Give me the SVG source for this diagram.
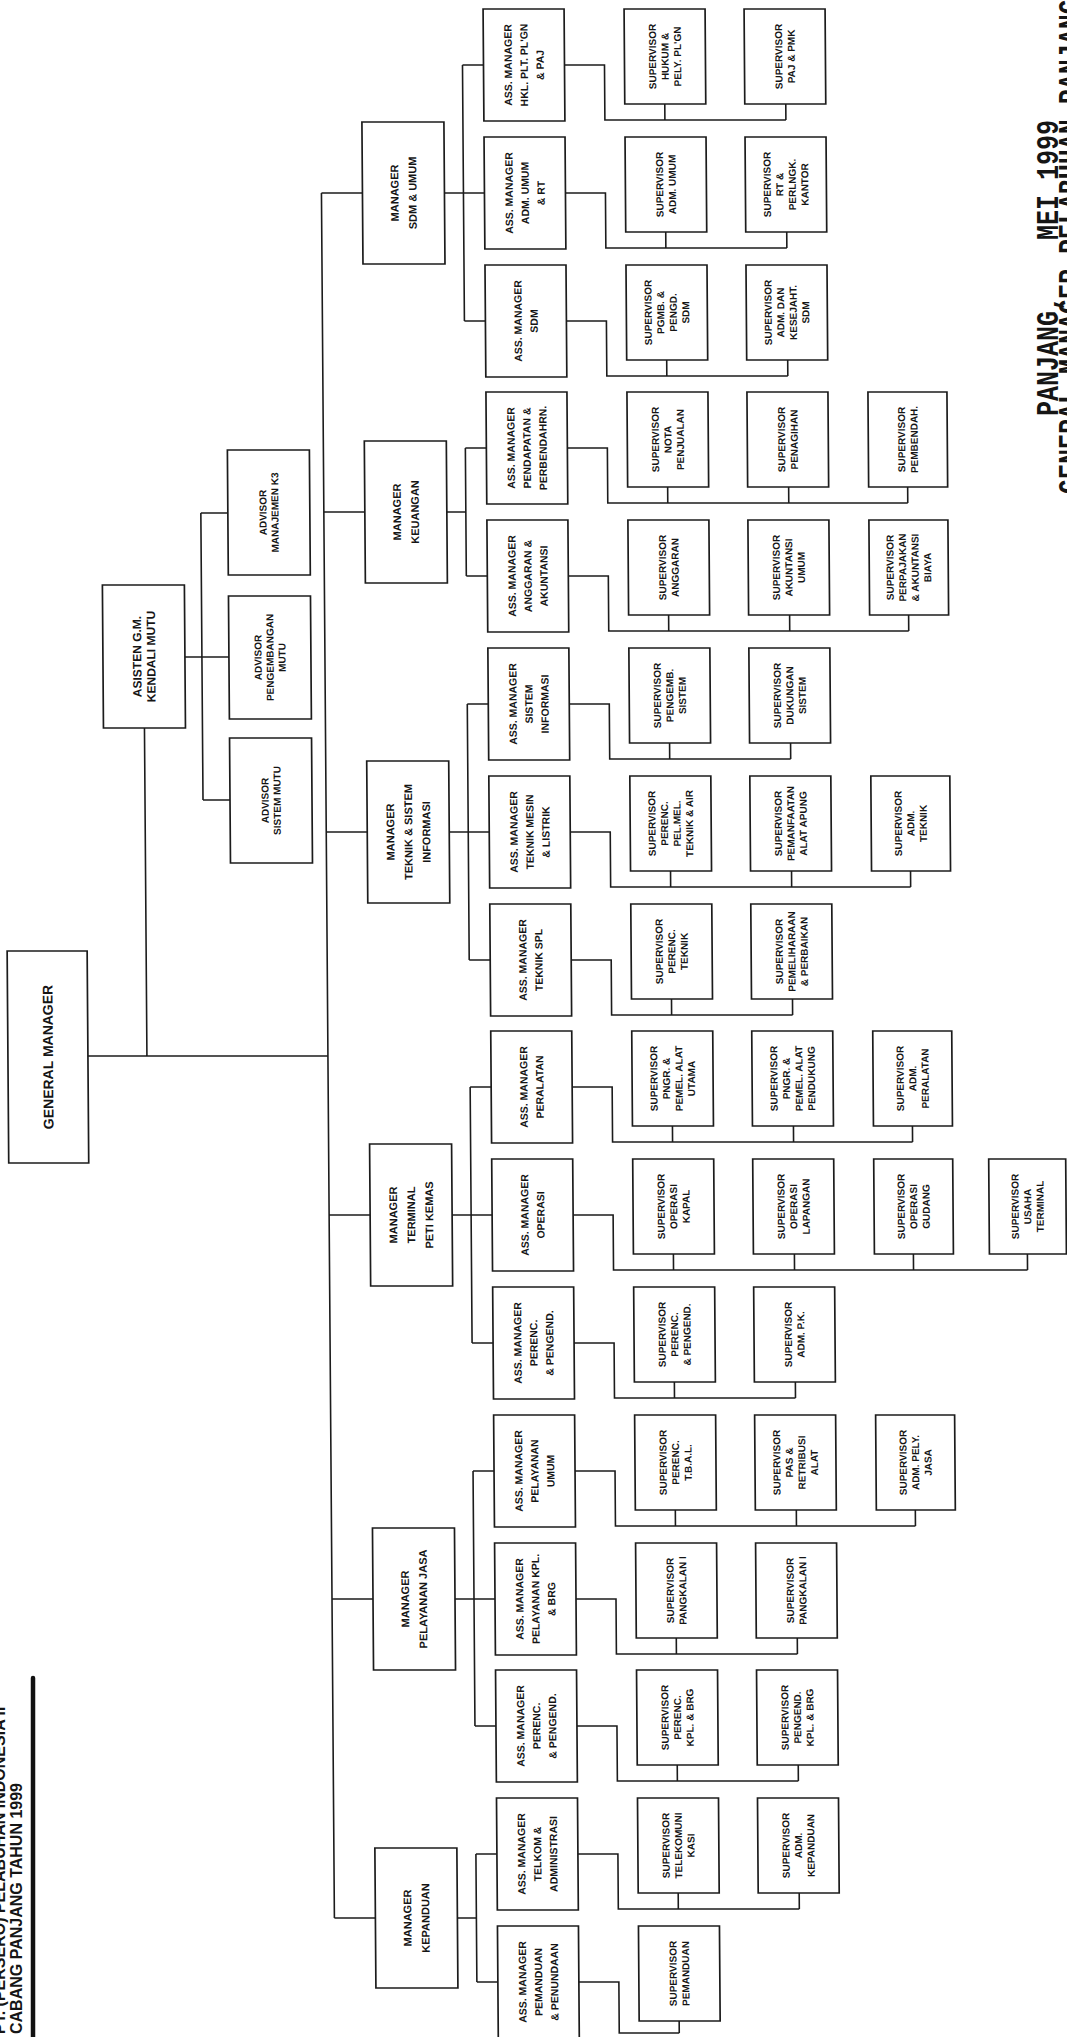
<svg xmlns="http://www.w3.org/2000/svg" width="1067" height="2037" viewBox="0 0 1067 2037">
<style>
.b{fill:none;stroke:#1c1c1c;stroke-width:1.7}
.c path{fill:none;stroke:#1c1c1c;stroke-width:1.6}
text{font-family:"Liberation Sans",Arial,sans-serif;font-weight:bold;fill:#151515;text-anchor:middle}
.am{font-size:10.5px}
.sv{font-size:10px}
.mg{font-size:11px}
.ad{font-size:10px}
.sig{font-family:"Liberation Mono","Courier New",monospace;font-size:25px;text-anchor:start}
</style>
<rect width="1067" height="2037" fill="#ffffff"/>
<g id="title">
<text transform="translate(5,2034) rotate(-90)" style="font-size:16px;text-anchor:start">PT. (PERSERO) PELABUHAN INDONESIA II</text>
<text transform="translate(22,2034) rotate(-90)" style="font-size:16px;text-anchor:start">CABANG PANJANG TAHUN 1999</text>
<path d="M33,1678V2037" stroke="#111" stroke-width="4.5" stroke-linecap="round" fill="none"/>
</g>
<g id="signature">
<text class="sig" transform="translate(1058,416) rotate(-90) scale(1,1.25)">PANJANG,</text>
<text class="sig" transform="translate(1058,240) rotate(-90) scale(1,1.25)">MEI 1999</text>
<text class="sig" transform="translate(1080,494) rotate(-90) scale(1,1.25)">GENERAL MANAGER PELABUHAN PANJANG</text>
</g>
<g transform="skewX(0.43)">
<g id="connectors" class="c">
<path d="M320,193V1918 M320,193H361 M320,512H361 M320,832H361 M320,1215H361 M320,1599H361 M320,1918H361"/>
<path d="M80,1056H320 M139,728V1056"/>
<path d="M180,657H224 M197,513V800 M197,513H224 M197,800H224"/>
<path d="M443,193H462 M462,65V321 M462,65H483 M462,193H483 M462,321H483"/>
<path d="M443,512H462 M462,448V576 M462,448H483 M462,576H483"/>
<path d="M443,832H483 M462,704V960 M462,704H483 M462,960H483"/>
<path d="M443,1215H483 M462,1087V1343 M462,1087H483 M462,1343H483"/>
<path d="M443,1599H483 M462,1471V1726 M462,1471H483 M462,1726H483"/>
<path d="M443,1918H462 M462,1854V1982 M462,1854H483 M462,1982H483"/>
<path d="M564,65H604V120H785 M664,104V120 M785,104V120"/>
<path d="M564,193H604V248H785 M664,232V248 M785,232V248"/>
<path d="M564,321H604V376H785 M664,360V376 M785,360V376"/>
<path d="M564,448H604V503H904 M664,487V503 M785,487V503 M904,487V503"/>
<path d="M564,576H604V631H904 M664,615V631 M785,615V631 M904,615V631"/>
<path d="M564,704H604V759H785 M664,743V759 M785,743V759"/>
<path d="M564,832H604V887H904 M664,871V887 M785,871V887 M904,871V887"/>
<path d="M564,960H604V1015H785 M664,999V1015 M785,999V1015"/>
<path d="M564,1087H604V1142H904 M664,1126V1142 M785,1126V1142 M904,1126V1142"/>
<path d="M564,1215H604V1270H1018 M664,1254V1270 M785,1254V1270 M904,1254V1270 M1018,1254V1270"/>
<path d="M564,1343H604V1398H785 M664,1382V1398 M785,1382V1398"/>
<path d="M564,1471H604V1526H904 M664,1510V1526 M785,1510V1526 M904,1510V1526"/>
<path d="M564,1599H604V1654H785 M664,1638V1654 M785,1638V1654"/>
<path d="M564,1726H604V1781H785 M664,1765V1781 M785,1765V1781"/>
<path d="M564,1854H604V1909H785 M664,1893V1909 M785,1893V1909"/>
<path d="M564,1982H604V2033H664 M664,2021V2033"/>
</g>

<g id="gm"><rect class="b" x="0" y="951" width="80" height="212"/><text transform="translate(40,1057) rotate(-90)" style="font-size:14px"><tspan x="0" y="5">GENERAL MANAGER</tspan></text></g>
<g id="asisten"><rect class="b" x="98" y="585" width="82" height="143"/><text transform="translate(139,656.5) rotate(-90)" style="font-size:12px"><tspan x="0" y="-2.7">ASISTEN G.M.</tspan><tspan x="0" y="11.3">KENDALI MUTU</tspan></text></g>
<g id="adv-k3"><rect class="b" x="224" y="450" width="82" height="125"/><text class="ad" transform="translate(265,512.5) rotate(-90)"><tspan x="0" y="-2.4">ADVISOR</tspan><tspan x="0" y="9.6">MANAJEMEN K3</tspan></text></g>
<g id="adv-pengembangan"><rect class="b" x="224" y="596" width="82" height="123"/><text class="ad" transform="translate(265,657.5) rotate(-90)"><tspan x="0" y="-8.4">ADVISOR</tspan><tspan x="0" y="3.6">PENGEMBANGAN</tspan><tspan x="0" y="15.6">MUTU</tspan></text></g>
<g id="adv-sistem"><rect class="b" x="224" y="738" width="82" height="125"/><text class="ad" transform="translate(265,800.5) rotate(-90)"><tspan x="0" y="-2.4">ADVISOR</tspan><tspan x="0" y="9.6">SISTEM MUTU</tspan></text></g>

<g id="mgr-sdm"><rect class="b" x="361" y="122" width="82" height="142"/><text class="mg" transform="translate(402,193) rotate(-90)"><tspan x="0" y="-5">MANAGER</tspan><tspan x="0" y="13">SDM &amp; UMUM</tspan></text></g>
<g id="mgr-keuangan"><rect class="b" x="361" y="441" width="82" height="142"/><text class="mg" transform="translate(402,512) rotate(-90)"><tspan x="0" y="-5">MANAGER</tspan><tspan x="0" y="13">KEUANGAN</tspan></text></g>
<g id="mgr-teknik"><rect class="b" x="361" y="761" width="82" height="142"/><text class="mg" transform="translate(402,832) rotate(-90)"><tspan x="0" y="-14">MANAGER</tspan><tspan x="0" y="4">TEKNIK &amp; SISTEM</tspan><tspan x="0" y="22">INFORMASI</tspan></text></g>
<g id="mgr-terminal"><rect class="b" x="361" y="1144" width="82" height="142"/><text class="mg" transform="translate(402,1215) rotate(-90)"><tspan x="0" y="-14">MANAGER</tspan><tspan x="0" y="4">TERMINAL</tspan><tspan x="0" y="22">PETI KEMAS</tspan></text></g>
<g id="mgr-pelayanan"><rect class="b" x="361" y="1528" width="82" height="142"/><text class="mg" transform="translate(402,1599) rotate(-90)"><tspan x="0" y="-5">MANAGER</tspan><tspan x="0" y="13">PELAYANAN JASA</tspan></text></g>
<g id="mgr-kepanduan"><rect class="b" x="361" y="1848" width="82" height="140"/><text class="mg" transform="translate(402,1918) rotate(-90)"><tspan x="0" y="-5">MANAGER</tspan><tspan x="0" y="13">KEPANDUAN</tspan></text></g>

<g id="am-hkl"><rect class="b" x="483" y="9" width="81" height="112"/><text class="am" transform="translate(523.5,65) rotate(-90)"><tspan x="0" y="-12.2">ASS. MANAGER</tspan><tspan x="0" y="3.8">HKL. PLT. PL'GN</tspan><tspan x="0" y="19.8">&amp; PAJ</tspan></text></g>
<g id="am-admumum"><rect class="b" x="483" y="137" width="81" height="112"/><text class="am" transform="translate(523.5,193) rotate(-90)"><tspan x="0" y="-12.2">ASS. MANAGER</tspan><tspan x="0" y="3.8">ADM. UMUM</tspan><tspan x="0" y="19.8">&amp; RT</tspan></text></g>
<g id="am-sdm"><rect class="b" x="483" y="265" width="81" height="112"/><text class="am" transform="translate(523.5,321) rotate(-90)"><tspan x="0" y="-4.2">ASS. MANAGER</tspan><tspan x="0" y="11.8">SDM</tspan></text></g>
<g id="am-pendapatan"><rect class="b" x="483" y="392" width="81" height="112"/><text class="am" transform="translate(523.5,448) rotate(-90)"><tspan x="0" y="-12.2">ASS. MANAGER</tspan><tspan x="0" y="3.8">PENDAPATAN &amp;</tspan><tspan x="0" y="19.8">PERBENDAHRN.</tspan></text></g>
<g id="am-anggaran"><rect class="b" x="483" y="520" width="81" height="112"/><text class="am" transform="translate(523.5,576) rotate(-90)"><tspan x="0" y="-12.2">ASS. MANAGER</tspan><tspan x="0" y="3.8">ANGGARAN &amp;</tspan><tspan x="0" y="19.8">AKUNTANSI</tspan></text></g>
<g id="am-si"><rect class="b" x="483" y="648" width="81" height="112"/><text class="am" transform="translate(523.5,704) rotate(-90)"><tspan x="0" y="-12.2">ASS. MANAGER</tspan><tspan x="0" y="3.8">SISTEM</tspan><tspan x="0" y="19.8">INFORMASI</tspan></text></g>
<g id="am-teknikmesin"><rect class="b" x="483" y="776" width="81" height="112"/><text class="am" transform="translate(523.5,832) rotate(-90)"><tspan x="0" y="-12.2">ASS. MANAGER</tspan><tspan x="0" y="3.8">TEKNIK MESIN</tspan><tspan x="0" y="19.8">&amp; LISTRIK</tspan></text></g>
<g id="am-tekniksipil"><rect class="b" x="483" y="904" width="81" height="112"/><text class="am" transform="translate(523.5,960) rotate(-90)"><tspan x="0" y="-4.2">ASS. MANAGER</tspan><tspan x="0" y="11.8">TEKNIK SPL</tspan></text></g>
<g id="am-peralatan"><rect class="b" x="483" y="1031" width="81" height="112"/><text class="am" transform="translate(523.5,1087) rotate(-90)"><tspan x="0" y="-4.2">ASS. MANAGER</tspan><tspan x="0" y="11.8">PERALATAN</tspan></text></g>
<g id="am-operasi"><rect class="b" x="483" y="1159" width="81" height="112"/><text class="am" transform="translate(523.5,1215) rotate(-90)"><tspan x="0" y="-4.2">ASS. MANAGER</tspan><tspan x="0" y="11.8">OPERASI</tspan></text></g>
<g id="am-perenc-tpk"><rect class="b" x="483" y="1287" width="81" height="112"/><text class="am" transform="translate(523.5,1343) rotate(-90)"><tspan x="0" y="-12.2">ASS. MANAGER</tspan><tspan x="0" y="3.8">PERENC.</tspan><tspan x="0" y="19.8">&amp; PENGEND.</tspan></text></g>
<g id="am-pelumum"><rect class="b" x="483" y="1415" width="81" height="112"/><text class="am" transform="translate(523.5,1471) rotate(-90)"><tspan x="0" y="-12.2">ASS. MANAGER</tspan><tspan x="0" y="3.8">PELAYANAN</tspan><tspan x="0" y="19.8">UMUM</tspan></text></g>
<g id="am-pelkapal"><rect class="b" x="483" y="1543" width="81" height="112"/><text class="am" transform="translate(523.5,1599) rotate(-90)"><tspan x="0" y="-12.2">ASS. MANAGER</tspan><tspan x="0" y="3.8">PELAYANAN KPL.</tspan><tspan x="0" y="19.8">&amp; BRG</tspan></text></g>
<g id="am-perenc-pj"><rect class="b" x="483" y="1670" width="81" height="112"/><text class="am" transform="translate(523.5,1726) rotate(-90)"><tspan x="0" y="-12.2">ASS. MANAGER</tspan><tspan x="0" y="3.8">PERENC.</tspan><tspan x="0" y="19.8">&amp; PENGEND.</tspan></text></g>
<g id="am-telkom"><rect class="b" x="483" y="1798" width="81" height="112"/><text class="am" transform="translate(523.5,1854) rotate(-90)"><tspan x="0" y="-12.2">ASS. MANAGER</tspan><tspan x="0" y="3.8">TELKOM &amp;</tspan><tspan x="0" y="19.8">ADMINISTRASI</tspan></text></g>
<g id="am-pemanduan"><rect class="b" x="483" y="1926" width="81" height="112"/><text class="am" transform="translate(523.5,1982) rotate(-90)"><tspan x="0" y="-12.2">ASS. MANAGER</tspan><tspan x="0" y="3.8">PEMANDUAN</tspan><tspan x="0" y="19.8">&amp; PENUNDAAN</tspan></text></g>

<g id="sv-hukum"><rect class="b" x="624" y="9" width="81" height="95"/><text class="sv" transform="translate(664.5,56.5) rotate(-90)"><tspan x="0" y="-8.9">SUPERVISOR</tspan><tspan x="0" y="3.6">HUKUM &amp;</tspan><tspan x="0" y="16.1">PELY. PL'GN</tspan></text></g>
<g id="sv-pajpmk"><rect class="b" x="744" y="9" width="81" height="95"/><text class="sv" transform="translate(784.5,56.5) rotate(-90)"><tspan x="0" y="-2.7">SUPERVISOR</tspan><tspan x="0" y="9.9">PAJ &amp; PMK</tspan></text></g>
<g id="sv-admumum"><rect class="b" x="624" y="137" width="81" height="95"/><text class="sv" transform="translate(664.5,184.5) rotate(-90)"><tspan x="0" y="-2.7">SUPERVISOR</tspan><tspan x="0" y="9.9">ADM. UMUM</tspan></text></g>
<g id="sv-rt"><rect class="b" x="744" y="137" width="81" height="95"/><text class="sv" transform="translate(784.5,184.5) rotate(-90)"><tspan x="0" y="-15.2">SUPERVISOR</tspan><tspan x="0" y="-2.7">RT &amp;</tspan><tspan x="0" y="9.9">PERLNGK.</tspan><tspan x="0" y="22.4">KANTOR</tspan></text></g>
<g id="sv-pgmb"><rect class="b" x="624" y="265" width="81" height="95"/><text class="sv" transform="translate(664.5,312.5) rotate(-90)"><tspan x="0" y="-15.2">SUPERVISOR</tspan><tspan x="0" y="-2.7">PGMB. &amp;</tspan><tspan x="0" y="9.9">PENGD.</tspan><tspan x="0" y="22.4">SDM</tspan></text></g>
<g id="sv-kesejahteraan"><rect class="b" x="744" y="265" width="81" height="95"/><text class="sv" transform="translate(784.5,312.5) rotate(-90)"><tspan x="0" y="-15.2">SUPERVISOR</tspan><tspan x="0" y="-2.7">ADM. DAN</tspan><tspan x="0" y="9.9">KESEJAHT.</tspan><tspan x="0" y="22.4">SDM</tspan></text></g>
<g id="sv-nota"><rect class="b" x="624" y="392" width="81" height="95"/><text class="sv" transform="translate(664.5,439.5) rotate(-90)"><tspan x="0" y="-8.9">SUPERVISOR</tspan><tspan x="0" y="3.6">NOTA</tspan><tspan x="0" y="16.1">PENJUALAN</tspan></text></g>
<g id="sv-penagihan"><rect class="b" x="744" y="392" width="81" height="95"/><text class="sv" transform="translate(784.5,439.5) rotate(-90)"><tspan x="0" y="-2.7">SUPERVISOR</tspan><tspan x="0" y="9.9">PENAGIHAN</tspan></text></g>
<g id="sv-pembendah"><rect class="b" x="865" y="392" width="79" height="95"/><text class="sv" transform="translate(904.5,439.5) rotate(-90)"><tspan x="0" y="-2.7">SUPERVISOR</tspan><tspan x="0" y="9.9">PEMBENDAH.</tspan></text></g>
<g id="sv-anggaran"><rect class="b" x="624" y="520" width="81" height="95"/><text class="sv" transform="translate(664.5,567.5) rotate(-90)"><tspan x="0" y="-2.7">SUPERVISOR</tspan><tspan x="0" y="9.9">ANGGARAN</tspan></text></g>
<g id="sv-akuntansi"><rect class="b" x="744" y="520" width="81" height="95"/><text class="sv" transform="translate(784.5,567.5) rotate(-90)"><tspan x="0" y="-8.9">SUPERVISOR</tspan><tspan x="0" y="3.6">AKUNTANSI</tspan><tspan x="0" y="16.1">UMUM</tspan></text></g>
<g id="sv-perpajakan"><rect class="b" x="865" y="520" width="79" height="95"/><text class="sv" transform="translate(904.5,567.5) rotate(-90)"><tspan x="0" y="-15.2">SUPERVISOR</tspan><tspan x="0" y="-2.7">PERPAJAKAN</tspan><tspan x="0" y="9.9">&amp; AKUNTANSI</tspan><tspan x="0" y="22.4">BIAYA</tspan></text></g>
<g id="sv-pengembsistem"><rect class="b" x="624" y="648" width="81" height="95"/><text class="sv" transform="translate(664.5,695.5) rotate(-90)"><tspan x="0" y="-8.9">SUPERVISOR</tspan><tspan x="0" y="3.6">PENGEMB.</tspan><tspan x="0" y="16.1">SISTEM</tspan></text></g>
<g id="sv-dukungan"><rect class="b" x="744" y="648" width="81" height="95"/><text class="sv" transform="translate(784.5,695.5) rotate(-90)"><tspan x="0" y="-8.9">SUPERVISOR</tspan><tspan x="0" y="3.6">DUKUNGAN</tspan><tspan x="0" y="16.1">SISTEM</tspan></text></g>
<g id="sv-perenc-mesin"><rect class="b" x="624" y="776" width="81" height="95"/><text class="sv" transform="translate(664.5,823.5) rotate(-90)"><tspan x="0" y="-15.2">SUPERVISOR</tspan><tspan x="0" y="-2.7">PERENC.</tspan><tspan x="0" y="9.9">PEL.MEL.</tspan><tspan x="0" y="22.4">TEKNIK &amp; AIR</tspan></text></g>
<g id="sv-alatapung"><rect class="b" x="744" y="776" width="81" height="95"/><text class="sv" transform="translate(784.5,823.5) rotate(-90)"><tspan x="0" y="-8.9">SUPERVISOR</tspan><tspan x="0" y="3.6">PEMANFAATAN</tspan><tspan x="0" y="16.1">ALAT APUNG</tspan></text></g>
<g id="sv-admteknik"><rect class="b" x="865" y="776" width="79" height="95"/><text class="sv" transform="translate(904.5,823.5) rotate(-90)"><tspan x="0" y="-8.9">SUPERVISOR</tspan><tspan x="0" y="3.6">ADM.</tspan><tspan x="0" y="16.1">TEKNIK</tspan></text></g>
<g id="sv-perenc-teknik"><rect class="b" x="624" y="904" width="81" height="95"/><text class="sv" transform="translate(664.5,951.5) rotate(-90)"><tspan x="0" y="-8.9">SUPERVISOR</tspan><tspan x="0" y="3.6">PERENC.</tspan><tspan x="0" y="16.1">TEKNIK</tspan></text></g>
<g id="sv-pemeliharaan"><rect class="b" x="744" y="904" width="81" height="95"/><text class="sv" transform="translate(784.5,951.5) rotate(-90)"><tspan x="0" y="-8.9">SUPERVISOR</tspan><tspan x="0" y="3.6">PEMELIHARAAN</tspan><tspan x="0" y="16.1">&amp; PERBAIKAN</tspan></text></g>
<g id="sv-alatutama"><rect class="b" x="624" y="1031" width="81" height="95"/><text class="sv" transform="translate(664.5,1078.5) rotate(-90)"><tspan x="0" y="-15.2">SUPERVISOR</tspan><tspan x="0" y="-2.7">PNGR. &amp;</tspan><tspan x="0" y="9.9">PEMEL. ALAT</tspan><tspan x="0" y="22.4">UTAMA</tspan></text></g>
<g id="sv-alatpendukung"><rect class="b" x="744" y="1031" width="81" height="95"/><text class="sv" transform="translate(784.5,1078.5) rotate(-90)"><tspan x="0" y="-15.2">SUPERVISOR</tspan><tspan x="0" y="-2.7">PNGR. &amp;</tspan><tspan x="0" y="9.9">PEMEL. ALAT</tspan><tspan x="0" y="22.4">PENDUKUNG</tspan></text></g>
<g id="sv-admperalatan"><rect class="b" x="865" y="1031" width="79" height="95"/><text class="sv" transform="translate(904.5,1078.5) rotate(-90)"><tspan x="0" y="-8.9">SUPERVISOR</tspan><tspan x="0" y="3.6">ADM.</tspan><tspan x="0" y="16.1">PERALATAN</tspan></text></g>
<g id="sv-opkapal"><rect class="b" x="624" y="1159" width="81" height="95"/><text class="sv" transform="translate(664.5,1206.5) rotate(-90)"><tspan x="0" y="-8.9">SUPERVISOR</tspan><tspan x="0" y="3.6">OPERASI</tspan><tspan x="0" y="16.1">KAPAL</tspan></text></g>
<g id="sv-oplapangan"><rect class="b" x="744" y="1159" width="81" height="95"/><text class="sv" transform="translate(784.5,1206.5) rotate(-90)"><tspan x="0" y="-8.9">SUPERVISOR</tspan><tspan x="0" y="3.6">OPERASI</tspan><tspan x="0" y="16.1">LAPANGAN</tspan></text></g>
<g id="sv-opgudang"><rect class="b" x="865" y="1159" width="79" height="95"/><text class="sv" transform="translate(904.5,1206.5) rotate(-90)"><tspan x="0" y="-8.9">SUPERVISOR</tspan><tspan x="0" y="3.6">OPERASI</tspan><tspan x="0" y="16.1">GUDANG</tspan></text></g>
<g id="sv-usaha"><rect class="b" x="980" y="1159" width="77" height="95"/><text class="sv" transform="translate(1018.5,1206.5) rotate(-90)"><tspan x="0" y="-8.9">SUPERVISOR</tspan><tspan x="0" y="3.6">USAHA</tspan><tspan x="0" y="16.1">TERMINAL</tspan></text></g>
<g id="sv-perenc-tpk"><rect class="b" x="624" y="1287" width="81" height="95"/><text class="sv" transform="translate(664.5,1334.5) rotate(-90)"><tspan x="0" y="-8.9">SUPERVISOR</tspan><tspan x="0" y="3.6">PERENC.</tspan><tspan x="0" y="16.1">&amp; PENGEND.</tspan></text></g>
<g id="sv-admpk"><rect class="b" x="744" y="1287" width="81" height="95"/><text class="sv" transform="translate(784.5,1334.5) rotate(-90)"><tspan x="0" y="-2.7">SUPERVISOR</tspan><tspan x="0" y="9.9">ADM. P.K.</tspan></text></g>
<g id="sv-tbal"><rect class="b" x="624" y="1415" width="81" height="95"/><text class="sv" transform="translate(664.5,1462.5) rotate(-90)"><tspan x="0" y="-8.9">SUPERVISOR</tspan><tspan x="0" y="3.6">PERENC.</tspan><tspan x="0" y="16.1">T.B.A.L.</tspan></text></g>
<g id="sv-pas"><rect class="b" x="744" y="1415" width="81" height="95"/><text class="sv" transform="translate(784.5,1462.5) rotate(-90)"><tspan x="0" y="-15.2">SUPERVISOR</tspan><tspan x="0" y="-2.7">PAS &amp;</tspan><tspan x="0" y="9.9">RETRIBUSI</tspan><tspan x="0" y="22.4">ALAT</tspan></text></g>
<g id="sv-admpely"><rect class="b" x="865" y="1415" width="79" height="95"/><text class="sv" transform="translate(904.5,1462.5) rotate(-90)"><tspan x="0" y="-8.9">SUPERVISOR</tspan><tspan x="0" y="3.6">ADM. PELY.</tspan><tspan x="0" y="16.1">JASA</tspan></text></g>
<g id="sv-pangkalan1"><rect class="b" x="624" y="1543" width="81" height="95"/><text class="sv" transform="translate(664.5,1590.5) rotate(-90)"><tspan x="0" y="-2.7">SUPERVISOR</tspan><tspan x="0" y="9.9">PANGKALAN I</tspan></text></g>
<g id="sv-pangkalan2"><rect class="b" x="744" y="1543" width="81" height="95"/><text class="sv" transform="translate(784.5,1590.5) rotate(-90)"><tspan x="0" y="-2.7">SUPERVISOR</tspan><tspan x="0" y="9.9">PANGKALAN I</tspan></text></g>
<g id="sv-perenc-kpl"><rect class="b" x="624" y="1670" width="81" height="95"/><text class="sv" transform="translate(664.5,1717.5) rotate(-90)"><tspan x="0" y="-8.9">SUPERVISOR</tspan><tspan x="0" y="3.6">PERENC.</tspan><tspan x="0" y="16.1">KPL. &amp; BRG</tspan></text></g>
<g id="sv-pengend-kpl"><rect class="b" x="744" y="1670" width="81" height="95"/><text class="sv" transform="translate(784.5,1717.5) rotate(-90)"><tspan x="0" y="-8.9">SUPERVISOR</tspan><tspan x="0" y="3.6">PENGEND.</tspan><tspan x="0" y="16.1">KPL. &amp; BRG</tspan></text></g>
<g id="sv-telkom"><rect class="b" x="624" y="1798" width="81" height="95"/><text class="sv" transform="translate(664.5,1845.5) rotate(-90)"><tspan x="0" y="-8.9">SUPERVISOR</tspan><tspan x="0" y="3.6">TELEKOMUNI</tspan><tspan x="0" y="16.1">KASI</tspan></text></g>
<g id="sv-admkepanduan"><rect class="b" x="744" y="1798" width="81" height="95"/><text class="sv" transform="translate(784.5,1845.5) rotate(-90)"><tspan x="0" y="-8.9">SUPERVISOR</tspan><tspan x="0" y="3.6">ADM.</tspan><tspan x="0" y="16.1">KEPANDUAN</tspan></text></g>
<g id="sv-pemanduan"><rect class="b" x="624" y="1926" width="81" height="95"/><text class="sv" transform="translate(664.5,1973.5) rotate(-90)"><tspan x="0" y="-2.7">SUPERVISOR</tspan><tspan x="0" y="9.9">PEMANDUAN</tspan></text></g>
</g>
</svg>
